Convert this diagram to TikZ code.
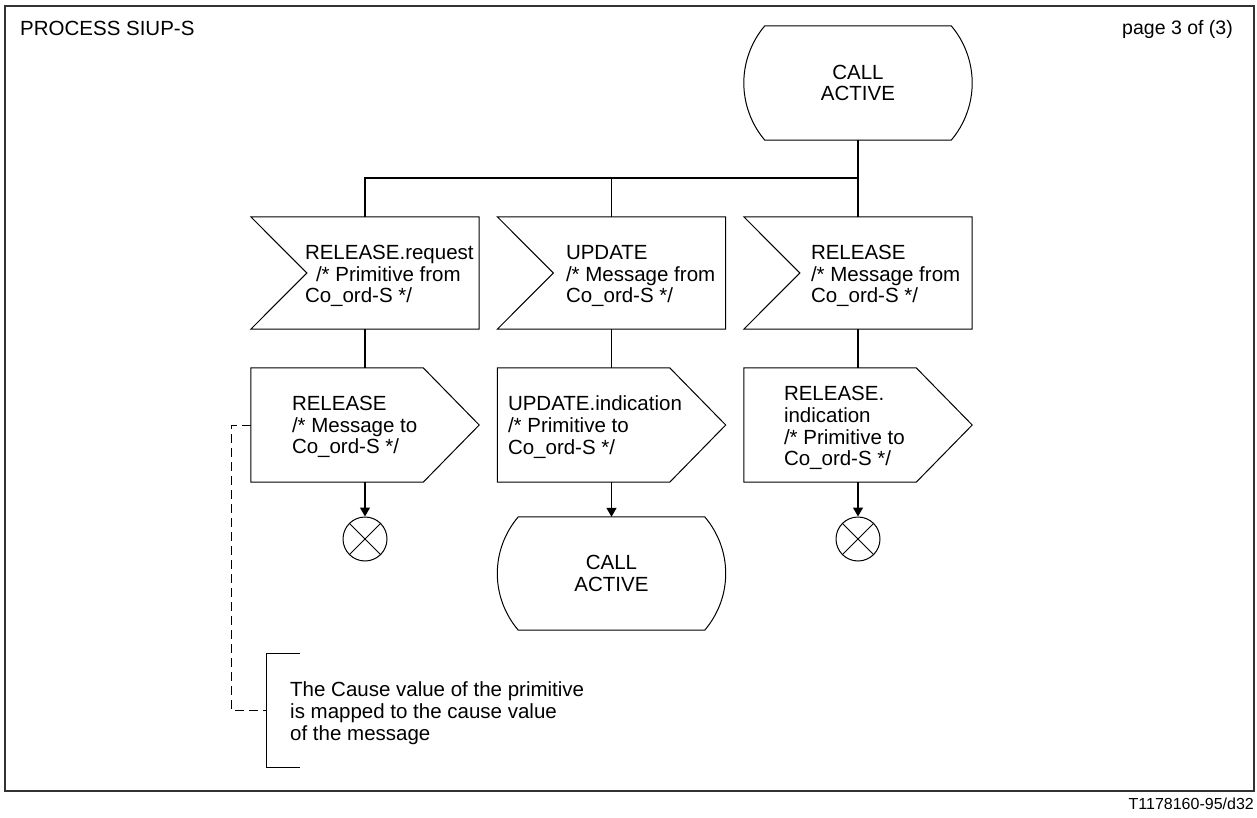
\documentclass[tikz,border=0pt]{standalone}
\usepackage{fontspec}
\setmainfont{Liberation Sans}
\usetikzlibrary{calc,arrows.meta}
\begin{document}
\begin{tikzpicture}[x=1pt,y=-1pt,
  txt/.style={inner sep=0pt, font=\fontsize{20.5}{21.8}\selectfont, align=left},
  sbox/.style={draw=none, inner sep=0pt, minimum width=228pt, minimum height=113pt,
               font=\fontsize{20.5}{21.8}\selectfont, align=center},
  outline/.style={draw=black, line width=1pt, line join=miter},
  flow/.style={draw=black, line width=1.3pt},
  arr/.style={flow, -{Triangle[length=9pt,width=10pt]}},
  note/.style={draw=black, line width=1pt, dash pattern=on 9pt off 5pt},
  term/.style={circle, draw=black, line width=1pt, minimum size=44pt, inner sep=0pt},
]
\useasboundingbox (0,0) rectangle (1257,818);

% page frame and headings
\draw[line width=1.6pt, black!80] (5,6) rectangle (1254,791);
\node[anchor=base west, inner sep=0pt, font=\fontsize{20.5}{22}\selectfont] (title) at (20,36) {PROCESS SIUP-S};
\node[anchor=base east, inner sep=0pt, font=\fontsize{19.5}{22}\selectfont] (page) at (1233,35) {page 3 of (3)};
\node[anchor=base east, inner sep=0pt, font=\fontsize{16}{18}\selectfont] (ref) at (1254,809) {T1178160-95/d32};

% state symbols
\newcommand{\stateoutline}[1]{%
  \draw[outline] ($(#1.north west)+(21,0)$) -- ($(#1.north east)+(-21,0)$)
    .. controls +(13.5,15.9) and +(0,-20.9) .. (#1.east)
    .. controls +(0,20.9) and +(13.5,-15.9) .. ($(#1.south east)+(-21,0)$)
    -- ($(#1.south west)+(21,0)$)
    .. controls +(-13.5,-15.9) and +(0,20.9) .. (#1.west)
    .. controls +(0,-20.9) and +(-13.5,15.9) .. ($(#1.north west)+(21,0)$) -- cycle;}

\node[sbox, minimum height=114pt] (st1) at (858,83) {CALL\\ACTIVE};
\stateoutline{st1}
\node[sbox] (st2) at (611.5,573.5) {CALL\\ACTIVE};
\stateoutline{st2}

% input symbols
\newcommand{\inputoutline}[1]{%
  \draw[outline] (#1.north west) -- (#1.north east) -- (#1.south east) -- (#1.south west)
    -- ($(#1.west)+(56,0)$) -- cycle;}
\node[sbox, minimum height=112pt] (inL) at (365,273) {};
\node[sbox, minimum height=112pt] (inM) at (611.5,273) {};
\node[sbox, minimum height=112pt] (inR) at (858,273) {};
\inputoutline{inL}\inputoutline{inM}\inputoutline{inR}
\node[txt, anchor=west] (inLt) at ($(inL.west)+(54,3)$) {RELEASE.request\\\hspace*{11pt}/* Primitive from\\Co\_ord-S */};
\node[txt, anchor=west] (inMt) at ($(inM.west)+(68.5,3)$) {UPDATE\\/* Message from\\Co\_ord-S */};
\node[txt, anchor=west] (inRt) at ($(inR.west)+(67,3)$) {RELEASE\\/* Message from\\Co\_ord-S */};

% output symbols
\newcommand{\outputoutline}[1]{%
  \draw[outline] (#1.north west) -- ($(#1.north east)+(-56,0)$) -- (#1.east)
    -- ($(#1.south east)+(-56,0)$) -- (#1.south west) -- cycle;}
\node[sbox, minimum height=114pt] (outL) at (365,425) {};
\node[sbox, minimum height=114pt] (outM) at (611.5,425) {};
\node[sbox, minimum height=114pt] (outR) at (858,425) {};
\outputoutline{outL}\outputoutline{outM}\outputoutline{outR}
\node[txt, anchor=west] (outLt) at ($(outL.west)+(41,2)$) {RELEASE\\/* Message to\\Co\_ord-S */};
\node[txt, anchor=west] (outMt) at ($(outM.west)+(10.5,2)$) {UPDATE.indication\\/* Primitive to\\Co\_ord-S */};
\node[txt, anchor=west] (outRt) at ($(outR.west)+(40,3)$) {RELEASE.\\indication\\/* Primitive to\\Co\_ord-S */};

% stop symbols
\node[term] (tL) at (365,539) {};
\node[term] (tR) at (858,539) {};
\draw[line width=0.8pt] (tL.north west) -- (tL.south east) (tL.north east) -- (tL.south west);
\draw[line width=0.8pt] (tR.north west) -- (tR.south east) (tR.north east) -- (tR.south west);

% flow lines
\coordinate (bus) at (858,178);
\draw[flow] (st1.south) -- (inR.north);
\draw[flow] (inL.north) |- (bus);
\draw[flow] (inM.north) -- (inM.north |- bus);
\draw[flow] (inL.south) -- (outL.north);
\draw[flow] (inM.south) -- (outM.north);
\draw[flow] (inR.south) -- (outR.north);
\draw[arr] (outL.south) -- (tL.north);
\draw[arr] (outM.south) -- (st2.north);
\draw[arr] (outR.south) -- (tR.north);

% comment
\node[draw=none, inner sep=0pt, minimum width=33pt, minimum height=113pt] (cm) at (283.5,710.5) {};
\draw[outline] (cm.north east) -- (cm.north west) -- (cm.south west) -- (cm.south east);
\node[txt, anchor=west] (cmt) at (290,713) {The Cause value of the primitive\\is mapped to the cause value\\of the message};
\draw[note] (outL.west) -- ++(-19,0) |- (cm.west);
\end{tikzpicture}
\end{document}
